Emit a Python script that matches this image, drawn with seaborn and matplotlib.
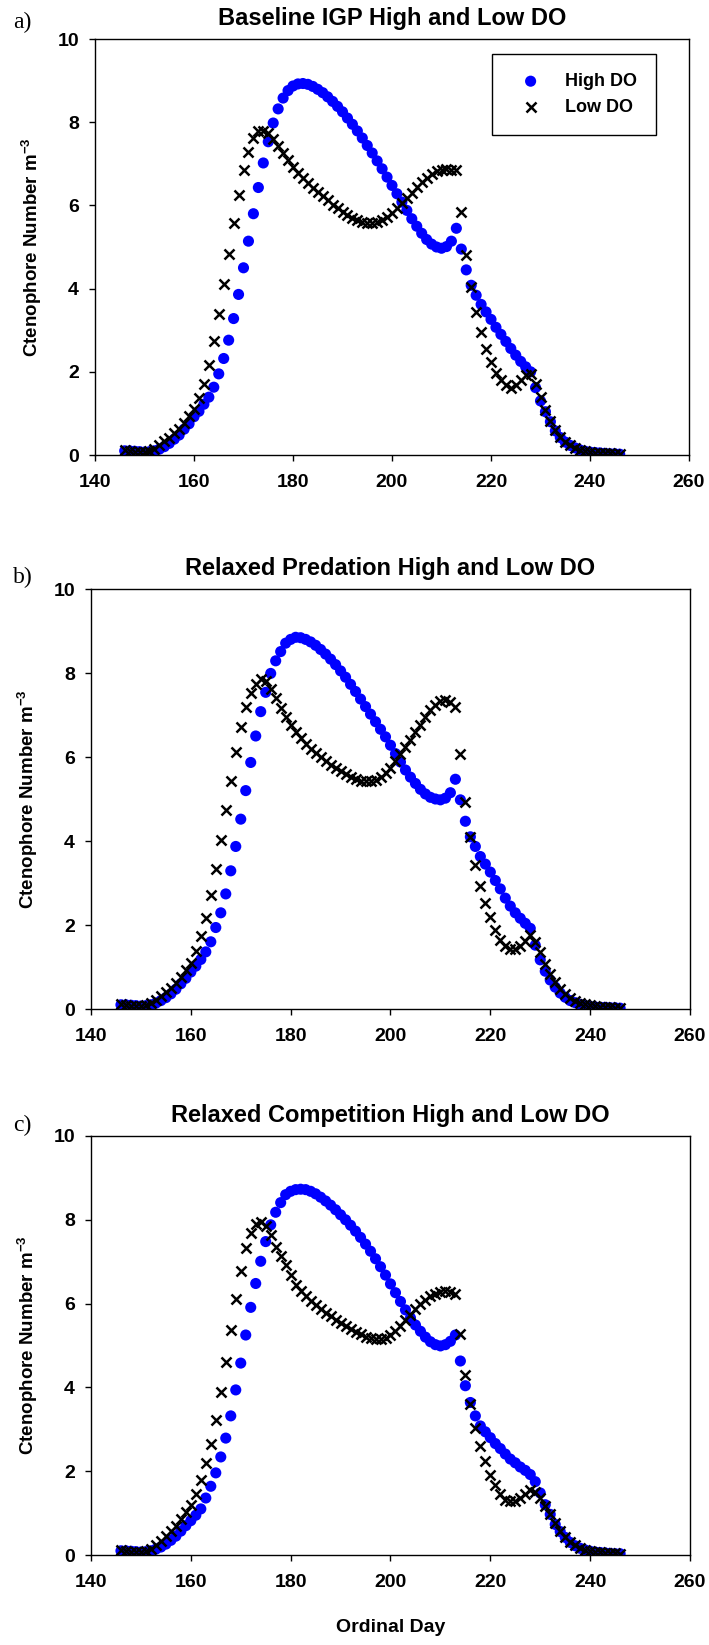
import matplotlib
matplotlib.use('Agg')
import matplotlib.pyplot as plt
import seaborn as sns
import pandas as pd

# ---------------- data ----------------
days = list(range(146, 247))

titles = ["Baseline IGP High and Low DO",
          "Relaxed Predation High and Low DO",
          "Relaxed Competition High and Low DO"]
panel_tags = ["a)", "b)", "c)"]
series_names = ["High DO", "Low DO"]
x_ticks = [140, 160, 180, 200, 220, 240, 260]
y_ticks = [0, 2, 4, 6, 8, 10]

a_high = [0.10, 0.10, 0.09, 0.08, 0.07, 0.08, 0.10, 0.14, 0.20, 0.28,
          0.38, 0.48, 0.62, 0.75, 0.92, 1.05, 1.22, 1.39, 1.63, 1.95,
          2.32, 2.76, 3.28, 3.86, 4.50, 5.14, 5.80, 6.43, 7.02, 7.53,
          7.98, 8.32, 8.58, 8.76, 8.87, 8.92, 8.93, 8.91, 8.86, 8.79,
          8.71, 8.61, 8.50, 8.38, 8.25, 8.10, 7.95, 7.79, 7.62, 7.44,
          7.26, 7.07, 6.88, 6.68, 6.48, 6.28, 6.08, 5.88, 5.68, 5.50,
          5.33, 5.18, 5.07, 5.00, 4.97, 5.01, 5.14, 5.45, 4.95, 4.45,
          4.08, 3.84, 3.62, 3.44, 3.26, 3.07, 2.90, 2.73, 2.56, 2.40,
          2.25, 2.12, 2.00, 1.62, 1.30, 1.04, 0.80, 0.58, 0.42, 0.31,
          0.23, 0.17, 0.12, 0.09, 0.07, 0.06, 0.05, 0.04, 0.03, 0.03,
          0.02]
a_low = [0.12, 0.10, 0.08, 0.07, 0.07, 0.09, 0.14, 0.24, 0.33, 0.42,
         0.52, 0.62, 0.78, 0.94, 1.10, 1.37, 1.70, 2.16, 2.74, 3.40,
         4.10, 4.83, 5.58, 6.26, 6.85, 7.29, 7.61, 7.78, 7.80, 7.75,
         7.60, 7.43, 7.25, 7.08, 6.93, 6.79, 6.66, 6.54, 6.43, 6.32,
         6.22, 6.12, 6.02, 5.93, 5.84, 5.76, 5.69, 5.64, 5.60, 5.58,
         5.58, 5.60, 5.65, 5.72, 5.82, 5.93, 6.05, 6.18, 6.31, 6.44,
         6.56, 6.67, 6.76, 6.82, 6.86, 6.87, 6.86, 6.84, 5.84, 4.80,
         4.04, 3.44, 2.96, 2.56, 2.24, 1.97, 1.80, 1.68, 1.62, 1.68,
         1.80, 1.93, 1.95, 1.70, 1.40, 1.08, 0.82, 0.60, 0.44, 0.32,
         0.24, 0.17, 0.13, 0.10, 0.08, 0.06, 0.05, 0.04, 0.04, 0.03,
         0.03]

b_high = [0.10, 0.10, 0.09, 0.08, 0.07, 0.08, 0.10, 0.14, 0.20, 0.27,
          0.36, 0.47, 0.60, 0.73, 0.88, 1.02, 1.18, 1.36, 1.60, 1.94,
          2.29, 2.74, 3.29, 3.87, 4.52, 5.20, 5.87, 6.50, 7.08, 7.54,
          7.99, 8.29, 8.51, 8.71, 8.80, 8.85, 8.84, 8.80, 8.74, 8.66,
          8.56, 8.45, 8.33, 8.20, 8.05, 7.90, 7.73, 7.56, 7.38, 7.20,
          7.02, 6.84, 6.66, 6.48, 6.28, 6.08, 5.88, 5.69, 5.52, 5.37,
          5.23, 5.12, 5.04, 5.00, 4.98, 5.02, 5.15, 5.47, 4.98, 4.47,
          4.10, 3.87, 3.63, 3.45, 3.26, 3.06, 2.86, 2.64, 2.45, 2.29,
          2.16, 2.04, 1.92, 1.52, 1.17, 0.90, 0.69, 0.52, 0.38, 0.28,
          0.20, 0.15, 0.11, 0.08, 0.06, 0.05, 0.04, 0.04, 0.03, 0.03,
          0.02]
b_low = [0.12, 0.10, 0.08, 0.07, 0.07, 0.09, 0.14, 0.22, 0.31, 0.41,
         0.51, 0.62, 0.77, 0.93, 1.10, 1.38, 1.75, 2.17, 2.71, 3.33,
         4.02, 4.73, 5.43, 6.12, 6.72, 7.19, 7.52, 7.75, 7.85, 7.82,
         7.62, 7.40, 7.17, 6.96, 6.77, 6.60, 6.45, 6.32, 6.20, 6.09,
         5.99, 5.90, 5.81, 5.73, 5.66, 5.59, 5.53, 5.48, 5.44, 5.42,
         5.42, 5.45, 5.52, 5.62, 5.75, 5.90, 6.06, 6.23, 6.41, 6.59,
         6.77, 6.95, 7.12, 7.25, 7.33, 7.35, 7.32, 7.20, 6.07, 4.93,
         4.10, 3.44, 2.94, 2.52, 2.20, 1.88, 1.64, 1.50, 1.43, 1.43,
         1.50, 1.62, 1.76, 1.60, 1.35, 1.08, 0.84, 0.64, 0.48, 0.36,
         0.27, 0.20, 0.15, 0.11, 0.09, 0.07, 0.05, 0.04, 0.04, 0.03,
         0.03]

c_high = [0.10, 0.10, 0.09, 0.08, 0.07, 0.08, 0.10, 0.14, 0.19, 0.26,
          0.35, 0.45, 0.57, 0.70, 0.82, 0.95, 1.10, 1.36, 1.64, 1.96,
          2.34, 2.79, 3.32, 3.94, 4.58, 5.25, 5.91, 6.48, 7.01, 7.48,
          7.88, 8.18, 8.41, 8.60, 8.68, 8.72, 8.73, 8.72, 8.68, 8.62,
          8.54, 8.45, 8.35, 8.24, 8.12, 8.00, 7.87, 7.73, 7.58, 7.42,
          7.25, 7.07, 6.88, 6.68, 6.47, 6.26, 6.05, 5.85, 5.66, 5.49,
          5.34, 5.20, 5.09, 5.02, 4.99, 5.02, 5.10, 5.25, 4.63, 4.04,
          3.64, 3.32, 3.08, 2.94, 2.80, 2.66, 2.54, 2.41, 2.29, 2.20,
          2.10, 2.02, 1.92, 1.75, 1.48, 1.20, 0.97, 0.73, 0.56, 0.42,
          0.30, 0.22, 0.16, 0.12, 0.09, 0.07, 0.06, 0.05, 0.04, 0.03,
          0.03]
c_low = [0.12, 0.10, 0.08, 0.07, 0.07, 0.09, 0.15, 0.24, 0.34, 0.45,
         0.57, 0.70, 0.85, 1.02, 1.20, 1.45, 1.78, 2.20, 2.66, 3.22,
         3.88, 4.61, 5.37, 6.10, 6.78, 7.32, 7.68, 7.90, 7.94, 7.85,
         7.64, 7.36, 7.13, 6.92, 6.68, 6.45, 6.31, 6.18, 6.06, 5.96,
         5.87, 5.78, 5.70, 5.62, 5.54, 5.47, 5.40, 5.33, 5.27, 5.21,
         5.17, 5.15, 5.15, 5.18, 5.25, 5.35, 5.47, 5.60, 5.73, 5.86,
         5.98, 6.09, 6.18, 6.24, 6.28, 6.29, 6.28, 6.23, 5.28, 4.30,
         3.60, 3.04, 2.60, 2.24, 1.92, 1.66, 1.45, 1.31, 1.28, 1.30,
         1.36, 1.45, 1.54, 1.50, 1.36, 1.18, 0.97, 0.76, 0.58, 0.43,
         0.32, 0.24, 0.17, 0.13, 0.10, 0.08, 0.06, 0.05, 0.04, 0.04,
         0.03]

panels = [(a_high, a_low), (b_high, b_low), (c_high, c_low)]

# ---------------- style ----------------
sns.set_theme(style='white')
plt.rcParams['font.family'] = ['Liberation Sans', 'DejaVu Sans']
plt.rcParams['font.weight'] = 'bold'
plt.rcParams['mathtext.fontset'] = 'custom'
plt.rcParams['mathtext.rm'] = 'Liberation Sans:bold'
plt.rcParams['mathtext.bf'] = 'Liberation Sans:bold'
plt.rcParams['mathtext.default'] = 'bf'

W, H = 709, 1645
fig = plt.figure(figsize=(W / 100, H / 100), dpi=100)
fig.patch.set_facecolor('white')

# axes boxes in pixels: left, right, top, bottom
boxes = [(95, 689, 39, 455), (91, 690, 589, 1009), (91, 690, 1136, 1555)]
tag_pos = [(13, 28), (13, 583), (13, 1131)]

for i, ((hi, lo), (l, r, t, b)) in enumerate(zip(panels, boxes)):
    ax = fig.add_axes([l / W, 1 - b / H, (r - l) / W, (b - t) / H])
    df = pd.DataFrame({'day': days, 'high': hi, 'low': lo})
    sns.scatterplot(data=df, x='day', y='high', ax=ax, color='#0000ff',
                    marker='o', s=64, linewidth=0, edgecolor='none',
                    label=series_names[0], zorder=2)
    sns.scatterplot(data=df, x='day', y='low', ax=ax, color='black',
                    marker='x', s=52, linewidth=1.8,
                    label=series_names[1], zorder=3)
    ax.set_xlim(140, 260)
    ax.set_ylim(0, 10)
    ax.set_xticks(x_ticks)
    ax.set_yticks(y_ticks)
    ax.tick_params(axis='both', which='major', direction='out', length=4.5,
                   width=1, color='black', labelsize=14, labelcolor='black',
                   bottom=True, left=True, top=False, right=False)
    ax.tick_params(axis='x', pad=9)
    ax.tick_params(axis='y', pad=7)
    for sp in ax.spines.values():
        sp.set_color('black')
        sp.set_linewidth(1)
        sp.set_visible(True)
    ax.set_title(titles[i], fontsize=17, fontweight='bold', pad=10,
                 color='black')
    ax.set_ylabel('Ctenophore Number m$^{-3}$', fontsize=13.5,
                  fontweight='bold', color='black', labelpad=10)
    if i == 2:
        ax.set_xlabel('Ordinal Day', fontsize=14, fontweight='bold',
                      color='black', labelpad=20)
    else:
        ax.set_xlabel('')
    if i == 0:
        leg = ax.legend(loc='upper left', bbox_to_anchor=(0.668, 0.964),
                        fontsize=13, frameon=True, fancybox=False,
                        borderpad=1.05, labelspacing=0.5, handlelength=2.2,
                        handletextpad=0.8, borderaxespad=0)
        fr = leg.get_frame()
        fr.set_edgecolor('black')
        fr.set_linewidth(1)
        fr.set_alpha(1)
        for txt in leg.get_texts():
            txt.set_fontweight('bold')
            txt.set_color('black')
    else:
        ax.get_legend().remove()
    fig.text(tag_pos[i][0] / W, 1 - tag_pos[i][1] / H, panel_tags[i],
             family=['Liberation Serif', 'DejaVu Serif'], fontweight='normal',
             fontsize=17, va='baseline', ha='left', color='black')

fig.savefig('out.png', dpi=100, facecolor='white')
